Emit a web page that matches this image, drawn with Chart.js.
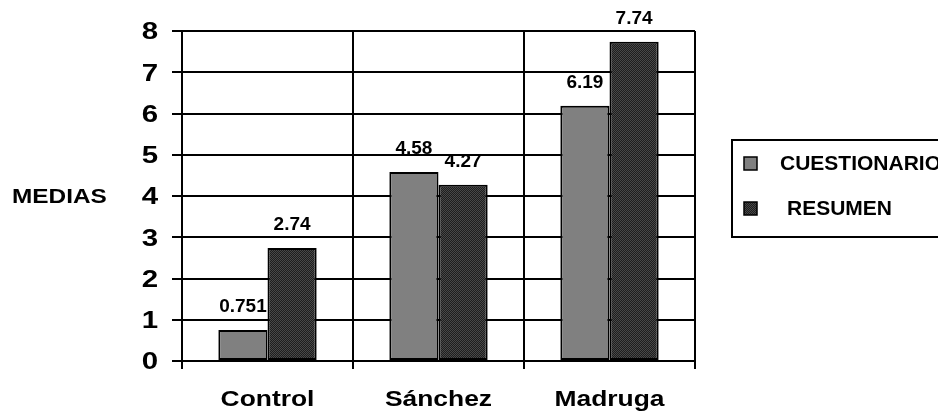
<!DOCTYPE html>
<html>
<head>
<meta charset="utf-8">
<script src="https://cdn.jsdelivr.net/npm/chart.js@4.4.1/dist/chart.umd.min.js"></script>
<style>
  html, body { margin: 0; padding: 0; background: #ffffff; }
  #wrap { width: 938px; height: 415px; }
</style>
</head>
<body>
<div id="wrap"><canvas id="c" width="938" height="415"></canvas></div>
<script>
// Group names along the x axis
const categories = ['Control', 'Sánchez', 'Madruga'];
// Mean scores per group
const cuestionario = [0.751, 4.58, 6.19];
const resumen = [2.74, 4.27, 7.74];
// Labels printed above each bar
const cuestionarioLabels = ['0.751', '4.58', '6.19'];
const resumenLabels = ['2.74', '4.27', '7.74'];
// Value axis tick labels
const yTickLabels = ['0', '1', '2', '3', '4', '5', '6', '7', '8'];
const seriesNames = ['CUESTIONARIO', 'RESUMEN'];
const yTitle = 'MEDIAS';

const FONT = '"Liberation Sans", Arial, Helvetica, sans-serif';

// Fine dotted fill used for the second series
function dotPattern() {
  const p = document.createElement('canvas');
  p.width = 2; p.height = 2;
  const g = p.getContext('2d');
  g.fillStyle = '#1e1e1e'; g.fillRect(0, 0, 2, 2);
  g.fillStyle = '#484848';
  g.fillRect(0, 0, 1, 1);
  g.fillRect(1, 1, 1, 1);
  return g.createPattern(p, 'repeat');
}
const resumenFill = dotPattern();

// Text drawn a little wider than the font's natural width
function wideText(ctx, text, x, y, sx) {
  ctx.save();
  ctx.translate(x, y);
  ctx.scale(sx, 1);
  ctx.fillText(text, 0, 0);
  ctx.restore();
}

const valueLabels = {
  id: 'valueLabels',
  afterDatasetsDraw(chart) {
    const ctx = chart.ctx;
    const texts = [cuestionarioLabels, resumenLabels];
    ctx.save();
    ctx.font = 'bold 19px ' + FONT;
    ctx.fillStyle = '#000';
    ctx.textAlign = 'center';
    ctx.textBaseline = 'middle';
    chart.data.datasets.forEach((ds, di) => {
      chart.getDatasetMeta(di).data.forEach((bar, i) => {
        ctx.fillText(texts[di][i], bar.x, bar.y - 23);
      });
    });
    ctx.restore();
  }
};

const axisText = {
  id: 'axisText',
  afterDraw(chart) {
    const ctx = chart.ctx;
    const xs = chart.scales.x;
    const ys = chart.scales.y;
    ctx.save();
    ctx.fillStyle = '#000';
    ctx.textBaseline = 'middle';

    // value axis numbers
    ctx.font = 'bold 23px ' + FONT;
    ctx.textAlign = 'right';
    yTickLabels.forEach(t => {
      wideText(ctx, t, 158, ys.getPixelForValue(Number(t)) + 2, 1.28);
    });

    // category names
    ctx.font = 'bold 22px ' + FONT;
    ctx.textAlign = 'center';
    categories.forEach((c, i) => {
      wideText(ctx, c, xs.getPixelForValue(i), 400, 1.2);
    });

    // y axis caption
    ctx.font = 'bold 19.5px ' + FONT;
    ctx.textAlign = 'left';
    wideText(ctx, yTitle, 12, 198, 1.25);
    ctx.restore();
  }
};

const legendBox = {
  id: 'legendBox',
  afterDraw(chart) {
    const ctx = chart.ctx;
    ctx.save();
    ctx.lineWidth = 2;
    ctx.strokeStyle = '#000';
    ctx.strokeRect(732, 140, 220, 97);
    const fills = [chart.data.datasets[0].backgroundColor, resumenFill];
    const rows = [164, 209];
    const textX = [780, 787];
    ctx.font = 'bold 21px ' + FONT;
    ctx.textAlign = 'left';
    ctx.textBaseline = 'middle';
    seriesNames.forEach((name, i) => {
      ctx.fillStyle = fills[i];
      ctx.fillRect(744, rows[i] - 7, 13, 13);
      ctx.lineWidth = 1.5;
      ctx.strokeRect(744, rows[i] - 7, 13, 13);
      ctx.fillStyle = '#000';
      ctx.fillText(name, textX[i], rows[i]);
    });
    ctx.restore();
  }
};

new Chart(document.getElementById('c'), {
  type: 'bar',
  data: {
    labels: categories,
    datasets: [
      {
        label: seriesNames[0],
        data: cuestionario,
        backgroundColor: '#808080',
        borderColor: '#000',
        borderWidth: 2,
        borderSkipped: false,
        categoryPercentage: 0.575,
        barPercentage: 1.0
      },
      {
        label: seriesNames[1],
        data: resumen,
        backgroundColor: resumenFill,
        borderColor: '#000',
        borderWidth: 2,
        borderSkipped: false,
        categoryPercentage: 0.575,
        barPercentage: 1.0
      }
    ]
  },
  options: {
    responsive: false,
    animation: false,
    events: [],
    layout: { padding: { top: 31, right: 243, bottom: 0, left: 0 } },
    plugins: {
      legend: { display: false },
      tooltip: { enabled: false },
      title: { display: false }
    },
    scales: {
      x: {
        afterFit(scale) { scale.height = 54; },
        grid: {
          offset: true,
          color: '#000',
          lineWidth: 2,
          tickLength: 8,
          drawTicks: true
        },
        border: { color: '#000', width: 2 },
        ticks: { display: false }
      },
      y: {
        min: 0,
        max: 8,
        afterFit(scale) { scale.width = 182; },
        grid: {
          color: '#000',
          lineWidth: 2,
          tickLength: 10
        },
        border: { color: '#000', width: 2 },
        ticks: { stepSize: 1, display: false }
      }
    }
  },
  plugins: [valueLabels, axisText, legendBox]
});
</script>
</body>
</html>
